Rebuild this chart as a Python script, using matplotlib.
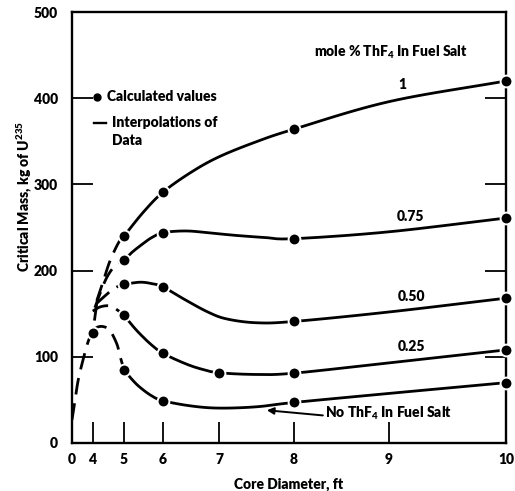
import numpy as np
import matplotlib
matplotlib.use("Agg")
import matplotlib.pyplot as plt
from matplotlib.scale import FuncScale

plt.rcParams["font.family"] = ["Lato", "DejaVu Sans"]
plt.rcParams["font.weight"] = "heavy"
plt.rcParams["mathtext.fontset"] = "custom"
plt.rcParams["mathtext.rm"] = "Lato:heavy"
plt.rcParams["mathtext.it"] = "Lato:heavy"
plt.rcParams["mathtext.bf"] = "Lato:heavy"

# ---- axis warping for core diameter (roughly volume-like spacing) ----
SCALE_FT = [0, 4, 5, 6, 7, 8, 9, 10]
SCALE_POS = [0.0, 20.7, 52.0, 91.0, 147.0, 221.7, 317.0, 434.0]

x_ticks = [0, 4, 5, 6, 7, 8, 9, 10]
y_ticks = [0, 100, 200, 300, 400, 500]

# ---- calculated values (markers) ----
calc_d_0 = [4, 5, 6, 8, 10]
calc_m_0 = [128, 85, 49, 47, 70]
calc_d_25 = [5, 6, 7, 8, 10]
calc_m_25 = [148, 104, 81, 81, 108]
calc_d_50 = [5, 6, 8, 10]
calc_m_50 = [184, 181, 141, 168]
calc_d_75 = [5, 6, 8, 10]
calc_m_75 = [212, 244, 237, 261]
calc_d_100 = [5, 6, 8, 10]
calc_m_100 = [240, 291, 364, 420]

# ---- interpolated curves: dashed (extrapolated) part ----
trunk_d = [0.0, 0.6, 1.2, 2.2, 3.2, 4.0, 4.07, 4.13]
trunk_m = [27, 50, 73, 98, 119, 128, 146, 162]

dash_d_0 = [4.0, 4.13, 4.34, 4.55, 4.77, 4.88, 5.0]
dash_m_0 = [128, 134, 135, 130.5, 115, 100, 85]
dash_d_25 = [4.0, 4.25, 4.55, 4.8, 5.0]
dash_m_25 = [153, 158, 159, 154, 148]
dash_d_50 = [4.13, 4.34, 4.6, 4.8, 5.0]
dash_m_50 = [162, 169, 177, 181.5, 184]
dash_d_75 = [4.07, 4.23, 4.45, 4.71, 5.0]
dash_m_75 = [157, 173, 192, 205.5, 212]
dash_d_100 = [4.13, 4.34, 4.55, 4.82, 5.0]
dash_m_100 = [165, 188, 211, 232, 240]

# ---- interpolated curves: solid part ----
solid_d_0 = [5.0, 5.2, 5.4, 5.7, 6.0, 6.5, 7.0, 7.5, 8.0, 9.0, 10.0]
solid_m_0 = [85, 74, 65, 55, 49, 43, 40.5, 42, 47, 57.5, 70]
solid_d_25 = [5.0, 5.2, 5.4, 5.7, 6.0, 6.4, 6.7, 7.0, 7.5, 8.0, 9.0, 10.0]
solid_m_25 = [148, 137, 127, 114, 104, 92, 85.5, 81.5, 79.5, 81, 93, 108]
solid_d_50 = [5.0, 5.4, 5.7, 6.0, 6.4, 6.8, 7.1, 7.5, 8.0, 9.0, 10.0]
solid_m_50 = [184, 186.5, 185, 181, 166, 152, 144, 139.5, 141, 152, 168]
solid_d_75 = [5.0, 5.2, 5.45, 5.7, 6.0, 6.4, 6.8, 7.2, 7.6, 8.0, 9.0, 10.0]
solid_m_75 = [212, 221, 230, 238, 244, 246, 244, 241, 238.5, 237, 245, 261]
solid_d_100 = [5.0, 5.5, 6.0, 6.5, 7.0, 7.5, 8.0, 9.0, 10.0]
solid_m_100 = [240, 268, 291, 314, 332, 349.5, 364, 396, 420]

curve_labels = ["1", "0.75", "0.50", "0.25"]


def fwd(x):
    return np.interp(x, SCALE_FT, SCALE_POS)


def inv(p):
    return np.interp(p, SCALE_POS, SCALE_FT)


def smooth_path(d, m, steps=12):
    """Catmull-Rom stroke through the given curve points, computed on the
    warped x axis so the line renders smoothly."""
    px = fwd(np.asarray(d, float))
    py = np.asarray(m, float) * (431.0 / 500.0)
    pts = np.column_stack([px, py])
    ext = np.vstack([2 * pts[0] - pts[1], pts, 2 * pts[-1] - pts[-2]])
    out = [pts[0]]
    for i in range(1, len(ext) - 2):
        p0, p1, p2, p3 = ext[i - 1], ext[i], ext[i + 1], ext[i + 2]
        for t in np.linspace(0, 1, steps + 1)[1:]:
            t2, t3 = t * t, t * t * t
            q = 0.5 * ((2 * p1) + (-p0 + p2) * t
                       + (2 * p0 - 5 * p1 + 4 * p2 - p3) * t2
                       + (-p0 + 3 * p1 - 3 * p2 + p3) * t3)
            out.append(q)
    out = np.array(out)
    return inv(out[:, 0]), out[:, 1] * (500.0 / 431.0)


fig = plt.figure(figsize=(5.15, 4.91), dpi=100)
ax = fig.add_axes([72 / 515, 48 / 491, 434 / 515, 431 / 491])
ax.set_xscale(FuncScale(ax, (fwd, inv)))

LW = 2.0
DASH = (6.0, 3.2)

dashed = [(trunk_d, trunk_m), (dash_d_0, dash_m_0), (dash_d_25, dash_m_25),
          (dash_d_50, dash_m_50), (dash_d_75, dash_m_75), (dash_d_100, dash_m_100)]
solid = [(solid_d_0, solid_m_0), (solid_d_25, solid_m_25), (solid_d_50, solid_m_50),
         (solid_d_75, solid_m_75), (solid_d_100, solid_m_100)]
calc = [(calc_d_0, calc_m_0), (calc_d_25, calc_m_25), (calc_d_50, calc_m_50),
        (calc_d_75, calc_m_75), (calc_d_100, calc_m_100)]

for d, m in dashed:
    sd, sm = smooth_path(d, m)
    ln, = ax.plot(sd, sm, color="black", lw=LW, solid_capstyle="butt",
                  dash_capstyle="butt", zorder=2)
    ln.set_dashes(DASH)
for d, m in solid:
    sd, sm = smooth_path(d, m)
    ax.plot(sd, sm, color="black", lw=LW, solid_joinstyle="round", zorder=2)
for d, m in calc:
    ax.plot(d, m, ls="none", marker="o", ms=8.5, mfc="black", mec="white",
            mew=1.4, zorder=4, clip_on=False)

ax.set_xlim(0, 10)
ax.set_ylim(0, 500)
ax.set_xticks(x_ticks)
ax.set_xticklabels([str(t) for t in x_ticks])
ax.set_yticks(y_ticks)
ax.set_yticklabels([str(t) for t in y_ticks])
ax.tick_params(axis="both", direction="in", length=15, width=1.3,
               labelsize=10, colors="black")
ax.tick_params(axis="y", right=True, pad=10)
ax.tick_params(axis="x", top=False, pad=7)
for s in ax.spines.values():
    s.set_linewidth(1.7)

ax.set_xlabel("Core Diameter, ft", fontsize=10, fontweight="heavy", labelpad=8)
fig.text(24 / 515, 1 - 196 / 491, "Critical Mass, kg of U$^{235}$",
         rotation=90, ha="center", va="center", fontsize=10, fontweight="heavy")

tr = ax.transAxes
ax.text(0.735, 0.907, "mole % ThF$_4$ In Fuel Salt", transform=tr,
        ha="center", va="center", fontsize=10, fontweight="heavy")
label_pos = [(0.760, 0.831), (0.779, 0.525), (0.783, 0.339), (0.783, 0.225)]
for txt, (px, py) in zip(curve_labels, label_pos):
    ax.text(px, py, txt, transform=tr, ha="center", va="center",
            fontsize=10, fontweight="heavy")

ax.text(0.583, 0.070, "No ThF$_4$ In Fuel Salt", transform=tr,
        ha="left", va="center", fontsize=10, fontweight="heavy")
ax.annotate("", xy=(0.449, 0.076), xycoords=tr, xytext=(0.578, 0.064),
            textcoords=tr,
            arrowprops=dict(arrowstyle="-|>", color="black", lw=1.4,
                            mutation_scale=10, shrinkA=0, shrinkB=0))

# key
ax.plot([0.058], [0.803], transform=tr, marker="o", ms=5, color="black",
        ls="none")
ax.text(0.081, 0.803, "Calculated values", transform=tr, ha="left",
        va="center", fontsize=10, fontweight="heavy")
ax.plot([0.051, 0.078], [0.743, 0.743], transform=tr, color="black", lw=1.7)
ax.text(0.0915, 0.743, "Interpolations of", transform=tr, ha="left",
        va="center", fontsize=10, fontweight="heavy")
ax.text(0.0915, 0.703, "Data", transform=tr, ha="left", va="center",
        fontsize=10, fontweight="heavy")

fig.savefig("out.png", dpi=100, facecolor="white")
